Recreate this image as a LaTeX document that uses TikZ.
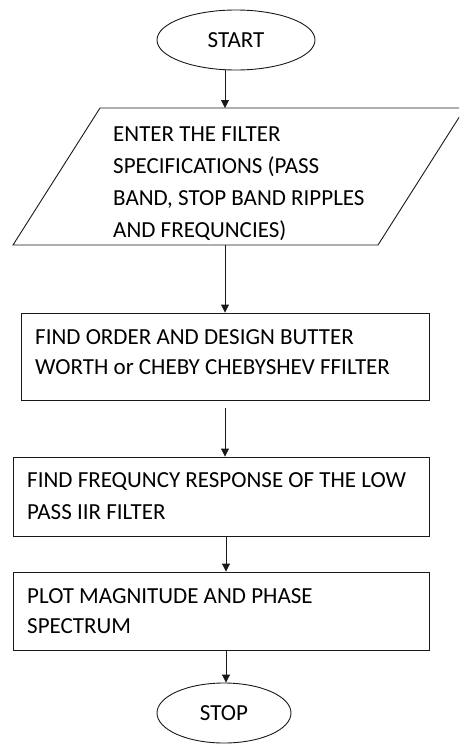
\documentclass[tikz,border=0pt]{standalone}
\usepackage{fontspec}
\setmainfont{Carlito}
\usetikzlibrary{arrows.meta,shapes.geometric}
\begin{document}
\begin{tikzpicture}[x=1pt,y=-1pt,
  outline/.style={draw=black!90,line width=0.9pt},
  flow/.style={outline,-{Triangle[length=8pt,width=8pt]}},
  term/.style={ellipse,outline,inner sep=0pt,font=\fontsize{23}{26}\selectfont},
  stepbox/.style={rectangle,outline,inner sep=0pt},
  label/.style={inner sep=0pt,anchor=base west,align=left}]
\useasboundingbox (0,0) rectangle (459,747);
\clip (0,0) rectangle (459,747);

% vertical lines shared by the connectors
\coordinate (ax) at (225,0);
\coordinate (bx) at (226,0);

% terminals
\node[term,minimum width=158pt,minimum height=60pt] (start) at (236,40) {START};
\node[term,minimum width=134pt,minimum height=60pt] (stop) at (224,713) {STOP};

% input parallelogram
\coordinate (inTL) at (100,108);
\coordinate (inTR) at (465,108);
\coordinate (inBR) at (378,245);
\coordinate (inBL) at (13,245);
\draw[outline] (inTL) -- (inTR) -- (inBR) -- (inBL) -- cycle;
% labels are anchored at the baseline of their last line
\node[label,font=\fontsize{23}{31.7}\selectfont] (intext) at (113,237)
  {ENTER THE FILTER\\SPECIFICATIONS (PASS\\BAND, STOP BAND RIPPLES\\AND FREQUNCIES)};

% process boxes
\node[stepbox,minimum width=408pt,minimum height=87pt] (order) at (225,356.5) {};
\node[stepbox,minimum width=416pt,minimum height=79pt] (resp) at (221,496.5) {};
\node[stepbox,minimum width=416pt,minimum height=78pt] (plot) at (221,611) {};

\node[label,font=\fontsize{23}{30}\selectfont] (ordertext) at (35,374)
  {FIND ORDER AND DESIGN BUTTER\\WORTH or CHEBY CHEBYSHEV FFILTER};
\node[label,font=\fontsize{23}{32}\selectfont] (resptext) at (27,519)
  {FIND FREQUNCY RESPONSE OF THE LOW\\PASS IIR FILTER};
\node[label,font=\fontsize{23}{30}\selectfont] (plottext) at (27,633)
  {PLOT MAGNITUDE AND PHASE\\SPECTRUM};

% connectors
\draw[flow] (start.south -| ax) -- (inTL -| ax);
\draw[flow] (inBL -| ax) -- (order.north -| ax);
\draw[flow,shorten <=8pt] (order.south -| ax) -- (resp.north -| ax);
\draw[flow] (resp.south -| bx) -- (plot.north -| bx);
\draw[flow] (plot.south -| bx) -- (stop.north -| bx);
\end{tikzpicture}
\end{document}
